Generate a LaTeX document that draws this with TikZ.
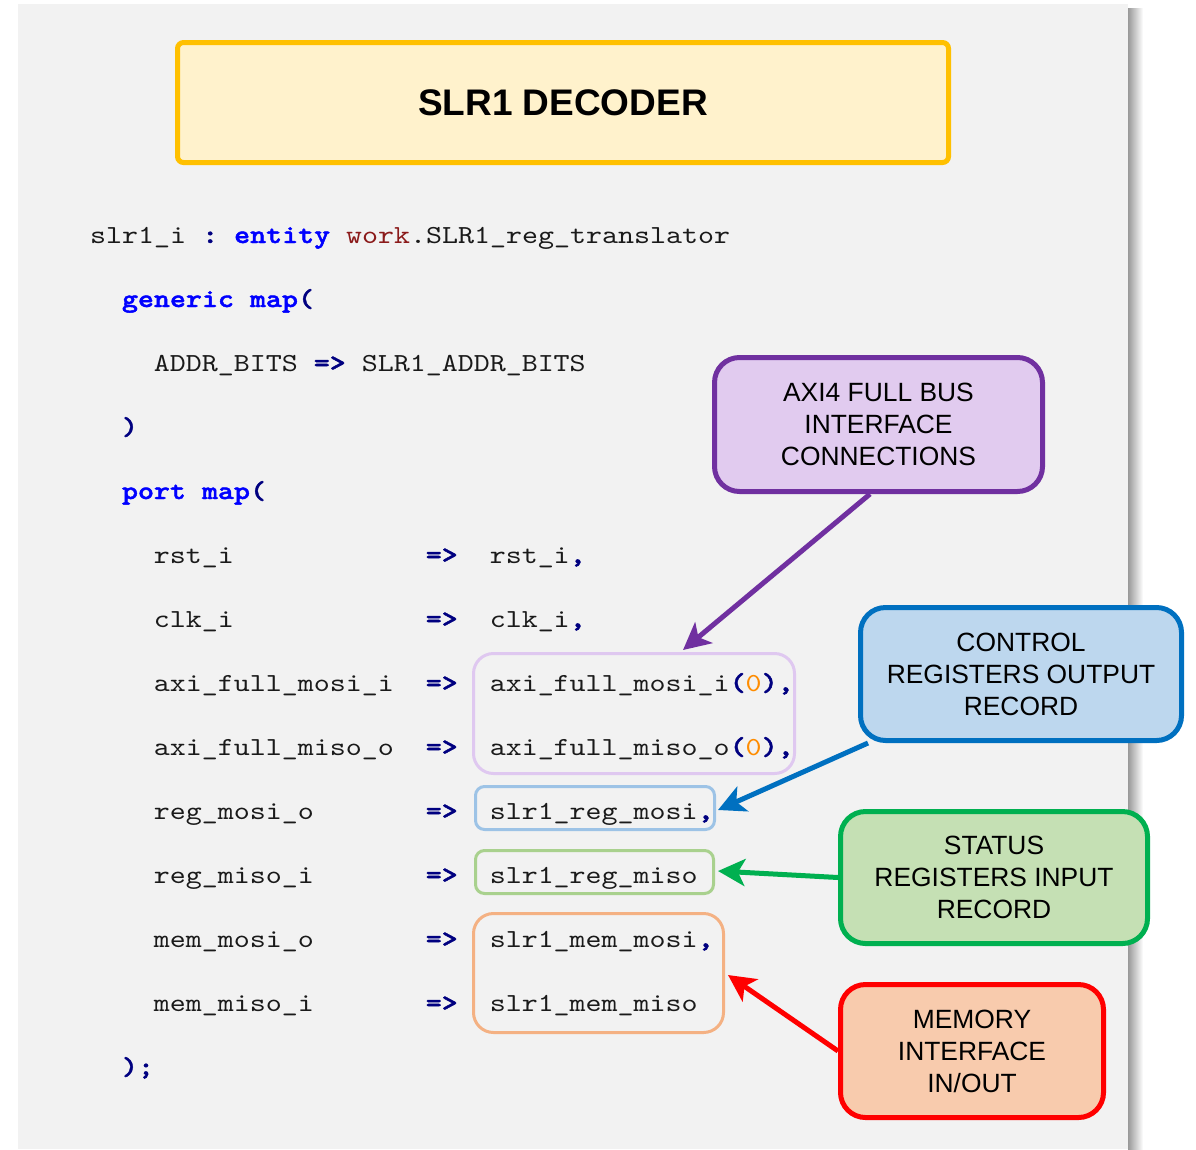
\documentclass[tikz,border=0pt]{standalone}
\usepackage{fontspec}
\setmainfont{Liberation Sans}
\setmonofont{lmmono10-regular.otf}[BoldFont=lmmonolt10-bold.otf, BoldFeatures={FakeBold=1.6}, FakeStretch=1.172]
\usetikzlibrary{arrows.meta,calc}
\definecolor{panel}{HTML}{F2F2F2}
\definecolor{codegray}{HTML}{1A1A1A}
\definecolor{kwblue}{HTML}{0000FF}
\definecolor{opnavy}{HTML}{000080}
\definecolor{wkred}{HTML}{8B1A1A}
\definecolor{numorange}{HTML}{FF8C00}
\definecolor{titleline}{HTML}{FFC000}
\definecolor{titlefill}{HTML}{FFF2CC}
\definecolor{purpline}{HTML}{7030A0}
\definecolor{purpfill}{HTML}{E1CBEF}
\definecolor{blueline}{HTML}{0070C0}
\definecolor{bluefill}{HTML}{BDD7EE}
\definecolor{greenline}{HTML}{00B050}
\definecolor{greenfill}{HTML}{C5E0B4}
\definecolor{redline}{HTML}{FF0000}
\definecolor{redfill}{HTML}{F8CBAD}
\definecolor{lpurp}{HTML}{DFC8F0}
\definecolor{lblue}{HTML}{9DC3E6}
\definecolor{lgreen}{HTML}{A9D18E}
\definecolor{lorange}{HTML}{F4B183}
\newcommand\kw[1]{{\bfseries\color{kwblue}#1}}
\newcommand\op[1]{{\bfseries\color{opnavy}#1}}
\newcommand\wk[1]{{\color{wkred}#1}}
\newcommand\nm[1]{{\color{numorange}#1}}
\begin{document}
\begin{tikzpicture}[x=1pt,y=-1pt,
  code/.style={anchor=base west, inner sep=0pt, font=\fontsize{26}{32}\selectfont\ttfamily, text=codegray},
  callout/.style={draw, rounded corners=25pt, line width=5pt, align=center, inner sep=0pt,
    font=\fontsize{26.4}{32}\selectfont},
  hbox/.style={draw, line width=3pt, inner sep=0pt},
  arr/.style={line width=5pt, -{Stealth[length=27pt,width=27pt,inset=7pt]}}]
\useasboundingbox (0,0) rectangle (1196,1149);
% panel and shadow
\shade[left color=black!40, right color=white] (1128,8) rectangle (1143,1149);
\fill[panel] (18,4) rectangle (1128,1149);
% title
\node[draw=titleline, fill=titlefill, line width=5pt, rounded corners=6pt,
  minimum width=771pt, minimum height=120pt, inner sep=0pt,
  font=\fontsize{37}{40}\selectfont\bfseries] (title) at (563,102.5) {SLR1 DECODER};
% highlight boxes
\node[hbox, draw=lpurp, rounded corners=20pt, minimum width=321pt, minimum height=120pt] (pbox) at (634,713.5) {};
\node[hbox, draw=lblue, rounded corners=9pt, minimum width=239pt, minimum height=43pt] (bbox) at (595,808) {};
\node[hbox, draw=lgreen, rounded corners=9pt, minimum width=238pt, minimum height=43pt] (gbox) at (594.5,872) {};
\node[hbox, draw=lorange, rounded corners=20pt, minimum width=250pt, minimum height=119pt] (obox) at (598.5,973) {};
% code
\node[code] (l1) at (90,243) {slr1\_i~\op{:}~\kw{entity}~\wk{work}.SLR1\_reg\_translator};
\node[code] (l2) at (121.8,307) {\kw{generic}~\kw{map}\op{(}};
\node[code] (l3) at (153.6,371) {ADDR\_BITS~\op{=>}~SLR1\_ADDR\_BITS};
\node[code] (l4) at (121.8,435) {\op{)}};
\node[code] (l5) at (121.8,499) {\kw{port}~\kw{map}\op{(}};
\node[code] (l6) at (153.6,563) {rst\_i~~~~~~~~~~~~\op{=>}~~rst\_i\op{,}};
\node[code] (l7) at (153.6,627) {clk\_i~~~~~~~~~~~~\op{=>}~~clk\_i\op{,}};
\node[code] (l8) at (153.6,691) {axi\_full\_mosi\_i~~\op{=>}~~axi\_full\_mosi\_i\op{(}\nm{0}\op{),}};
\node[code] (l9) at (153.6,755) {axi\_full\_miso\_o~~\op{=>}~~axi\_full\_miso\_o\op{(}\nm{0}\op{),}};
\node[code] (l10) at (153.6,819) {reg\_mosi\_o~~~~~~~\op{=>}~~slr1\_reg\_mosi\op{,}};
\node[code] (l11) at (153.6,883) {reg\_miso\_i~~~~~~~\op{=>}~~slr1\_reg\_miso};
\node[code] (l12) at (153.6,947) {mem\_mosi\_o~~~~~~~\op{=>}~~slr1\_mem\_mosi\op{,}};
\node[code] (l13) at (153.6,1011) {mem\_miso\_i~~~~~~~\op{=>}~~slr1\_mem\_miso};
\node[code] (l14) at (121.8,1075) {\op{);}};
% callouts
\node[callout, draw=purpline, fill=purpfill, minimum width=328pt, minimum height=134pt] (pc) at (878.5,424.5)
  {AXI4 FULL BUS\\INTERFACE\\CONNECTIONS};
\node[callout, draw=blueline, fill=bluefill, minimum width=321pt, minimum height=133pt] (bc) at (1021,674)
  {CONTROL\\REGISTERS OUTPUT\\RECORD};
\node[callout, draw=greenline, fill=greenfill, minimum width=307pt, minimum height=132pt] (gc) at (994,877.5)
  {STATUS\\REGISTERS INPUT\\RECORD};
\node[callout, draw=redline, fill=redfill, minimum width=263pt, minimum height=133pt] (rc) at (972,1051)
  {MEMORY\\INTERFACE\\IN/OUT};
% arrows
\draw[arr, draw=purpline, fill=purpline] ($(pc.south)+(-8.5,0)$) -- ($(pbox.north)+(49,-2)$);
\draw[arr, draw=blueline, fill=blueline] ($(bc.south west)+(10,0)$) -- ($(bbox.east)+(2,2)$);
\draw[arr, draw=greenline, fill=greenline] (gc.west) -- ($(gbox.east)+(3,-1)$);
\draw[arr, draw=redline, fill=redline] (rc.west) -- ($(obox.east)+(3,2)$);
\end{tikzpicture}
\end{document}
